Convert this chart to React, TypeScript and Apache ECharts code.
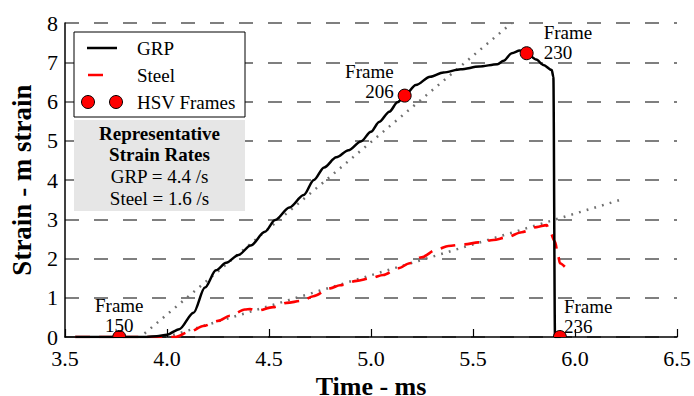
import React, { useEffect, useRef } from "react";
import * as echarts from "echarts";

const FONT = "Liberation Serif";

// Time (ms) ticks
const xTicks = [3.5, 4.0, 4.5, 5.0, 5.5, 6.0, 6.5];
const yTicks = [0, 1, 2, 3, 4, 5, 6, 7, 8];

// GRP strain trace [time ms, strain]
const grpTime = [3.55, 3.9, 3.95, 4.0, 4.06, 4.13, 4.186, 4.24, 4.29, 4.35, 4.41, 4.48, 4.53, 4.6, 4.67, 4.72, 4.77, 4.83, 4.89, 4.95, 5.0, 5.04, 5.09, 5.13, 5.165, 5.22, 5.29, 5.355, 5.44, 5.53, 5.62, 5.65, 5.69, 5.73, 5.763, 5.81, 5.845, 5.886, 5.894, 5.902, 5.93];
const grpStrain = [0, 0, 0.02, 0.06, 0.2, 0.62, 1.26, 1.7, 1.89, 2.09, 2.33, 2.68, 2.98, 3.3, 3.62, 4.0, 4.32, 4.58, 4.76, 4.98, 5.23, 5.48, 5.74, 5.98, 6.15, 6.42, 6.63, 6.74, 6.82, 6.89, 6.95, 7.04, 7.23, 7.3, 7.23, 7.07, 6.93, 6.8, 6.63, 0, 0];

// Steel strain trace
const steelTime = [3.55, 4.04, 4.113, 4.178, 4.25, 4.309, 4.382, 4.407, 4.44, 4.52, 4.587, 4.66, 4.717, 4.8, 4.848, 4.93, 5.0, 5.06, 5.134, 5.19, 5.248, 5.322, 5.379, 5.46, 5.526, 5.6, 5.665, 5.739, 5.812, 5.861, 5.877, 5.902, 5.918, 5.926, 5.95];
const steelStrain = [0, 0, 0.14, 0.28, 0.41, 0.54, 0.7, 0.71, 0.67, 0.76, 0.87, 0.92, 1.04, 1.24, 1.32, 1.43, 1.5, 1.58, 1.75, 1.88, 2.03, 2.23, 2.32, 2.36, 2.41, 2.47, 2.54, 2.67, 2.8, 2.85, 2.68, 2.43, 2.05, 1.88, 1.79];

// Representative strain-rate fit lines (endpoints)
const grpFitTime = [3.89, 5.69];
const grpFitStrain = [0.09, 8.0];
const steelFitTime = [4.03, 6.22];
const steelFitStrain = [0.05, 3.49];

// HSV frames
const frameTime = [3.766, 5.165, 5.763, 5.926];
const frameStrain = [0, 6.15, 7.23, 0];
const frameNumber = [150, 206, 230, 236];

// label placement (layout, not data)
const framePlacement = [
  { dx: 0, dy: -22, align: "center" },
  { dx: -11, dy: -14, align: "right" },
  { dx: 17, dy: -11, align: "left" },
  { dx: 4, dy: -21, align: "left" },
];

const legendNames = ["GRP", "Steel", "HSV Frames"];
const rateTitle = ["Representative", "Strain Rates"];
const rateLines = ["GRP = 4.4 /s", "Steel = 1.6 /s"];

const zip = (a: number[], b: number[]) => a.map((v, i) => [v, b[i]]);

export default function App() {
  const ref = useRef<HTMLDivElement>(null);
  useEffect(() => {
    if (!ref.current) return;
    const chart = echarts.init(ref.current, undefined, { renderer: "svg" });
    const frameData = frameTime.map((t, i) => [t, frameStrain[i], frameNumber[i]]);

    const G = 100;
    const txt = (text: string, x: number, y: number, align: string, bold = false) => ({
      type: "text", z: G + 1, x, y,
      style: { text, fontFamily: FONT, fontSize: 19, fontWeight: bold ? "bold" : "normal", fill: "#000", verticalAlign: "middle", align },
    });
    const graphics: any[] = [
      { type: "rect", z: G, shape: { x: 74, y: 32, width: 171, height: 85 }, style: { fill: "#fff", stroke: "#000", lineWidth: 1 } },
      { type: "line", z: G + 1, shape: { x1: 87, y1: 48, x2: 117, y2: 48 }, style: { stroke: "#000", lineWidth: 2.5 } },
      { type: "line", z: G + 1, shape: { x1: 88, y1: 75, x2: 103, y2: 75 }, style: { stroke: "#ff0000", lineWidth: 2.5 } },
      { type: "circle", z: G + 1, shape: { cx: 88, cy: 102, r: 6.5 }, style: { fill: "#ff0000", stroke: "#000", lineWidth: 1 } },
      { type: "circle", z: G + 1, shape: { cx: 116, cy: 102, r: 6.5 }, style: { fill: "#ff0000", stroke: "#000", lineWidth: 1 } },
      ...legendNames.map((n, i) => txt(n, 137, 48 + i * 27, "left")),
      { type: "rect", z: G, shape: { x: 74, y: 120, width: 171, height: 91 }, style: { fill: "#e6e6e6" } },
      ...rateTitle.map((t, i) => txt(t, 159.5, 133 + i * 21.5, "center", true)),
      ...rateLines.map((t, i) => txt(t, 159.5, 176 + i * 22, "center")),
    ];

    chart.setOption({
      animation: false,
      backgroundColor: "#fff",
      textStyle: { fontFamily: FONT },
      grid: { left: 65, right: 17, top: 23, bottom: 59, containLabel: false, outerBoundsMode: "none" },
      xAxis: {
        type: "value",
        min: xTicks[0],
        max: xTicks[xTicks.length - 1],
        interval: 0.5,
        name: "Time - ms",
        nameLocation: "middle",
        nameGap: 30,
        nameTextStyle: { fontFamily: FONT, fontSize: 26, lineHeight: 26, fontWeight: "bold", color: "#000" },
        axisLine: { show: true, lineStyle: { color: "#000", width: 1.5 } },
        axisTick: { show: true, inside: true, length: 8, lineStyle: { color: "#000", width: 1.2 } },
        axisLabel: { fontFamily: FONT, fontSize: 22, color: "#000", margin: 10, formatter: (v: number) => v.toFixed(1) },
        splitLine: { show: false },
      },
      yAxis: {
        type: "value",
        min: yTicks[0],
        max: yTicks[yTicks.length - 1],
        interval: 1,
        name: "Strain - m strain",
        nameLocation: "middle",
        nameGap: 30,
        nameTextStyle: { fontFamily: FONT, fontSize: 27, fontWeight: "bold", color: "#000" },
        axisLine: { show: true, lineStyle: { color: "#000", width: 1.5 } },
        axisTick: { show: false },
        axisLabel: { fontFamily: FONT, fontSize: 22, color: "#000", margin: 7 },
        splitLine: { show: true, lineStyle: { color: "#7f7f7f", width: 2, type: [14, 15] } },
      },
      graphic: graphics,
      series: [
        {
          type: "line", name: "GRP fit", data: zip(grpFitTime, grpFitStrain), showSymbol: false, z: 3,
          lineStyle: { color: "#707070", width: 2.5, type: [1.8, 6.2] },
        },
        {
          type: "line", name: "Steel fit", data: zip(steelFitTime, steelFitStrain), showSymbol: false, z: 3,
          lineStyle: { color: "#707070", width: 2.5, type: [1.8, 6.2] },
        },
        {
          type: "line", name: "Steel", data: zip(steelTime, steelStrain), showSymbol: false, z: 4,
          smooth: 0.3, smoothMonotone: "x",
          lineStyle: { color: "#ff0000", width: 2.6, type: [15, 9] },
        },
        {
          type: "line", name: "GRP", data: zip(grpTime, grpStrain), showSymbol: false, z: 5,
          smooth: 0.3, smoothMonotone: "x",
          lineStyle: { color: "#000", width: 2.5 },
        },
        {
          type: "custom", name: "HSV Frames", data: frameData, clip: true, z: 6,
          renderItem: (params: any, api: any) => {
            const pt = api.coord([api.value(0), api.value(1)]);
            return {
              type: "circle",
              shape: { cx: pt[0], cy: pt[1], r: 6.5 },
              style: { fill: "#ff0000", stroke: "#000", lineWidth: 1 },
            };
          },
        },
        {
          type: "custom", name: "Frame labels", data: frameData, clip: false, z: 6,
          renderItem: (params: any, api: any) => {
            const pt = api.coord([api.value(0), api.value(1)]);
            const pl = framePlacement[params.dataIndex];
            return {
              type: "text",
              x: pt[0] + pl.dx,
              y: pt[1] + pl.dy,
              style: {
                text: `Frame\n${api.value(2)}`,
                fontFamily: FONT,
                fontSize: 19,
                fill: "#000",
                align: pl.align,
                verticalAlign: "middle",
                lineHeight: 20,
              },
            };
          },
        },
      ],
    });
    return () => chart.dispose();
  }, []);
  return <div ref={ref} style={{ width: 694, height: 396, position: "absolute", left: 0, top: 0 }} />;
}
